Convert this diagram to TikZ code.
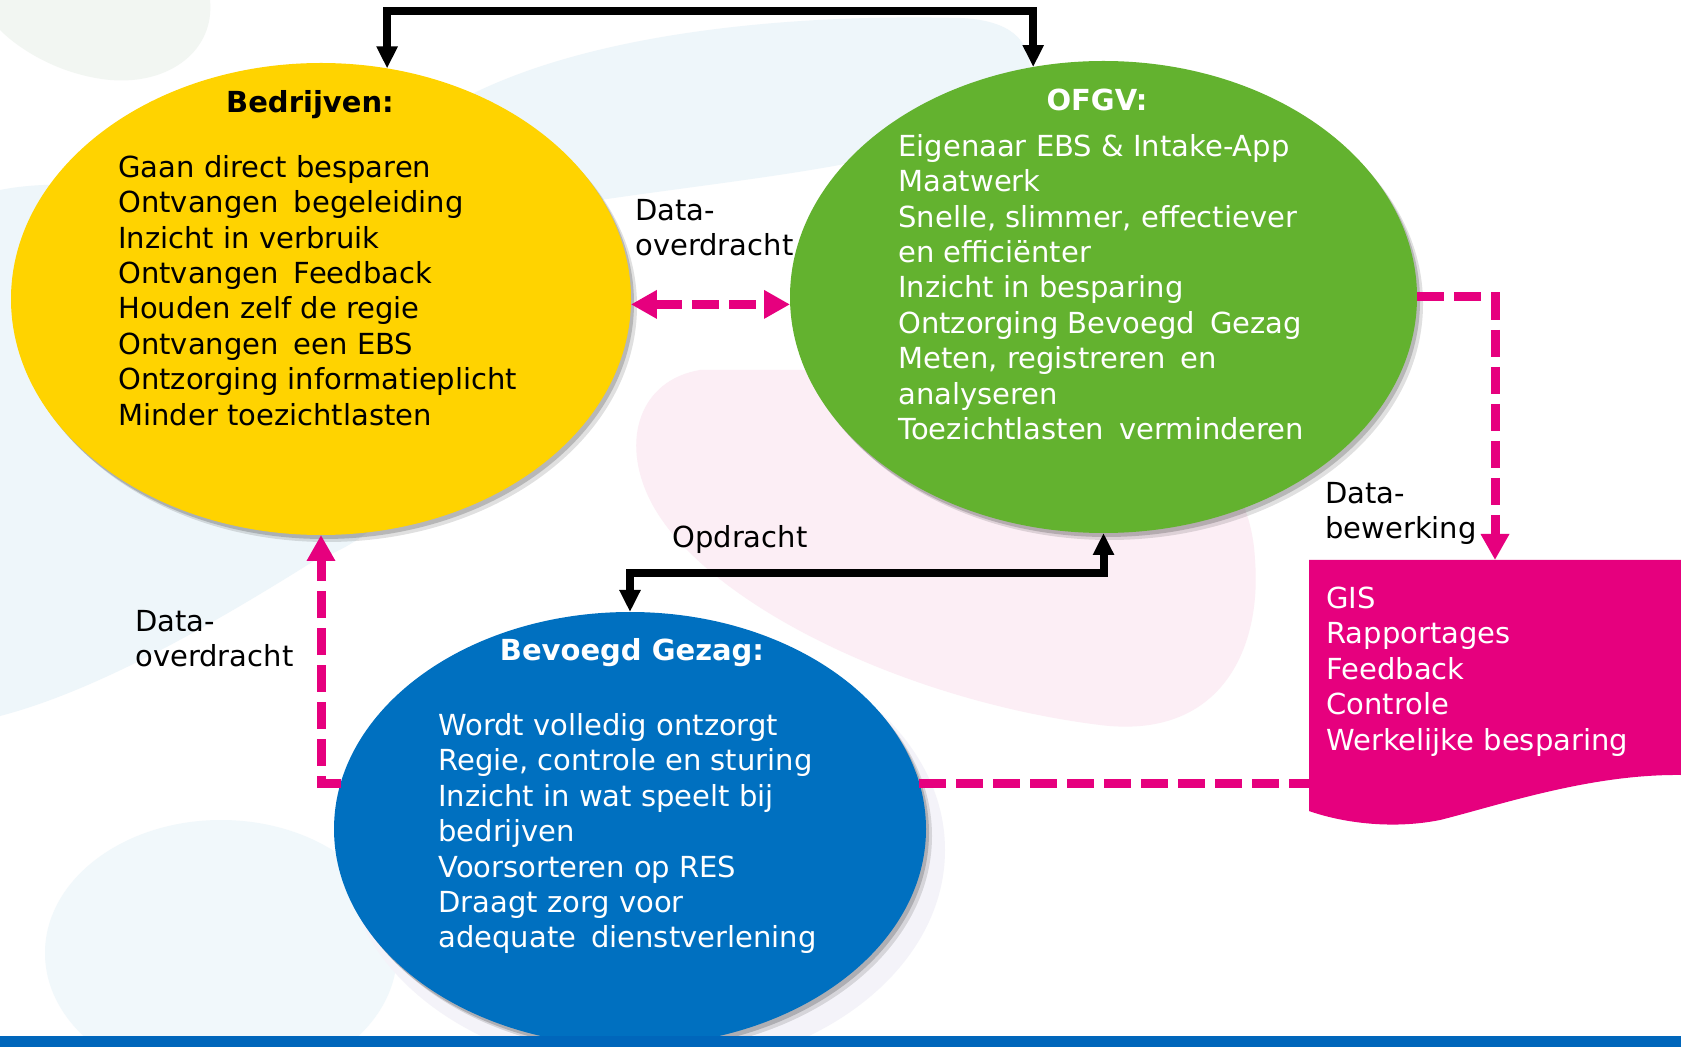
\documentclass[tikz,border=0pt]{standalone}
\usepackage{fontspec}
\setmainfont{DejaVu Sans}
\usetikzlibrary{shapes.geometric,arrows.meta,shadows}
\definecolor{cyel}{RGB}{255,211,0}
\definecolor{cgrn}{RGB}{99,178,47}
\definecolor{cblu}{RGB}{0,112,192}
\definecolor{cmag}{RGB}{230,0,126}
\definecolor{cbar}{RGB}{0,102,187}
\definecolor{bgblue}{RGB}{238,246,250}
\definecolor{bgpink}{RGB}{252,238,245}
\definecolor{bggray}{RGB}{242,246,242}
\definecolor{bglav}{RGB}{244,243,249}
\newcommand\widesp{\hspace{0.2em}}
\tikzset{
  magtip/.tip={Triangle[width=13.5pt,length=13pt]},
  blktip/.tip={Triangle[width=10pt,length=11pt]}
}
\begin{document}
\begin{tikzpicture}[x=0.5pt,y=-0.5pt,
  blob/.style={ellipse, inner sep=0pt, outer sep=0pt,
    drop shadow={shadow xshift=1.5pt,shadow yshift=-2pt,opacity=0.18,fill=black},
    drop shadow={shadow xshift=3pt,shadow yshift=-3.5pt,opacity=0.12,fill=black}},
  itemtxt/.style={anchor=north west, align=left, inner sep=0pt, font=\fontsize{14.5pt}{17.7pt}\selectfont},
  titletxt/.style={anchor=base, inner sep=0pt, font=\fontsize{14.5pt}{17.7pt}\selectfont\bfseries},
  blkconn/.style={line width=4pt, blktip-blktip},
  magconn/.style={cmag, line width=4.5pt, dash pattern=on 13.5pt off 5pt}
]
\useasboundingbox (0,0) rectangle (1681,1047);
\fill[white] (0,0) rectangle (1681,1047);
% background blobs
\fill[bggray] (0,0) -- (210,0) .. controls (215,50) and (170,85) .. (110,80) .. controls (60,75) and (20,50) .. (0,30) -- cycle;
\fill[bgblue] (0,190) .. controls (100,170) and (300,200) .. (420,400) .. controls (440,470) and (380,540) .. (317,559) .. controls (220,620) and (100,690) .. (0,716) -- cycle;
\fill[bgblue] (470,95) .. controls (600,30) and (800,14) .. (960,18) .. controls (1010,20) and (1030,40) .. (1030,70) -- (1000,120) .. controls (900,165) and (750,178) .. (600,200) -- cycle;
\fill[bgpink] (700,370) .. controls (640,380) and (620,440) .. (650,500) .. controls (700,600) and (900,700) .. (1100,725) .. controls (1220,740) and (1262,650) .. (1255,560) .. controls (1250,450) and (1150,380) .. (1000,370) -- cycle;
\fill[bgblue!80!white] (221,953) ellipse [x radius=176, y radius=133];
\fill[bglav] (645,850) ellipse [x radius=300, y radius=222];

% main shapes
\node[blob, fill=cyel, minimum width=310pt, minimum height=236pt] (bedr) at (321,299) {};
\node[blob, fill=cgrn, minimum width=313.5pt, minimum height=236pt] (ofgv) at (1103.5,297) {};
\node[blob, fill=cblu, minimum width=296pt, minimum height=217pt] (gez) at (630,829) {};
\node[rectangle, inner sep=0pt, outer sep=0pt, minimum width=186pt, minimum height=126pt] (doc) at (1495,686) {};
\fill[cmag] (1309,560) -- (1681,560) -- (1681,775) .. controls (1590,774) and (1500,805) .. (1440,820) .. controls (1390,830) and (1340,822) .. (1309,811) -- cycle;

% texts
\node[titletxt] (bedrT) at (310,113) {Bedrijven:};
\node[itemtxt] (bedrL) at (118,148) {\rule{0pt}{1em}Gaan direct besparen\\
Ontvangen\widesp{} begeleiding\\
Inzicht in verbruik\\
Ontvangen\widesp{} Feedback\\
Houden zelf de regie\\
Ontvangen\widesp{} een EBS\\
Ontzorging informatieplicht\\
Minder toezichtlasten};
\node[titletxt, text=white] (ofgvT) at (1097,111) {OFGV:};
\node[itemtxt, text=white] (ofgvL) at (898,127) {\rule{0pt}{1em}Eigenaar EBS \& Intake-App\\
Maatwerk\\
Snelle, slimmer, effectiever\\
en efficiënter\\
Inzicht in besparing\\
Ontzorging Bevoegd\widesp{} Gezag\\
Meten, registreren\widesp{} en\\
analyseren\\
Toezichtlasten\widesp{} verminderen};
\node[titletxt, text=white] (gezT) at (632,661) {Bevoegd Gezag:};
\node[itemtxt, text=white] (gezL) at (438,706) {\rule{0pt}{1em}Wordt volledig ontzorgt\\
Regie, controle en sturing\\
Inzicht in wat speelt bij\\
bedrijven\\
Voorsorteren op RES\\
Draagt zorg voor\\
adequate\widesp{} dienstverlening};
\node[itemtxt, text=white] (docL) at (1326,579) {\rule{0pt}{1em}GIS\\
Rapportages\\
Feedback\\
Controle\\
Werkelijke besparing};
\node[itemtxt] (lab1) at (635,191) {\rule{0pt}{1em}Data-\\overdracht};
\node[itemtxt] (lab2) at (1325,474) {\rule{0pt}{1em}Data-\\bewerking};
\node[itemtxt, anchor=base west] (lab3) at (672,548) {Opdracht};
\node[itemtxt] (lab4) at (135,602) {\rule{0pt}{1em}Data-\\overdracht};

% connectors
\coordinate (topc) at (700,11.5);
\coordinate (opdc) at (800,573);
\draw[blkconn] (bedr.74) |- (topc) -| (ofgv.107);
\draw[blkconn] (gez.north) |- (opdc) -| (ofgv.south);
\draw[magconn, magtip-magtip] (bedr.-1) -- (bedr.-1 -| ofgv.west);
\draw[magconn, -magtip] (ofgv.east) -| (doc.north);
\draw[magconn] (gez.9) -- (gez.9 -| doc.west);
\draw[magconn, -magtip] (gez.171) -| (bedr.south);

\fill[cbar] (0,1036) rectangle (1681,1047);
\end{tikzpicture}
\end{document}
